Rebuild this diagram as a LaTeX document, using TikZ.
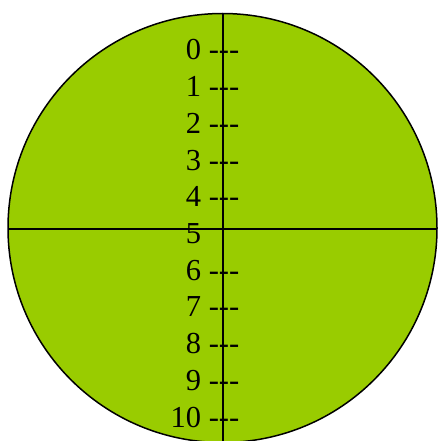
\documentclass[tikz,border=0pt]{standalone}
\usepackage{fontspec}
\setmainfont{Liberation Serif}
\definecolor{dialgreen}{HTML}{99CC00}
\tikzset{
  dial/.style={draw=black, line width=1.5pt, fill=dialgreen},
  axis/.style={draw=black, line width=1.3pt},
  marklabel/.style={anchor=base east, inner sep=0pt, font=\fontsize{30.5}{30.5}\selectfont}
}
\begin{document}
\begin{tikzpicture}[x=1pt,y=1pt]
\useasboundingbox (0,0) rectangle (437,-441);
\node[dial, circle, minimum size=429pt, inner sep=0pt] (dial) at (222.5,-228) {};
\coordinate (hl) at (8,-229);
\coordinate (hr) at (437,-229);
\coordinate (vt) at (223,-13);
\coordinate (vb) at (223,-441);
\draw[axis] (hl) -- (hr);
\draw[axis] (vt) -- (vb);
\foreach \k in {0,1,2,3,4,6,7,8,9,10}{
  \node[marklabel] (m\k) at (239.5,{-(51.5+36.7*\k)-8.5}) {\k\ -{}-{}-};
}
\node[marklabel] (m5) at (239.5,{-(51.5+36.7*5)-8.5}) {5\ \phantom{-{}-{}-}};
\end{tikzpicture}
\end{document}
